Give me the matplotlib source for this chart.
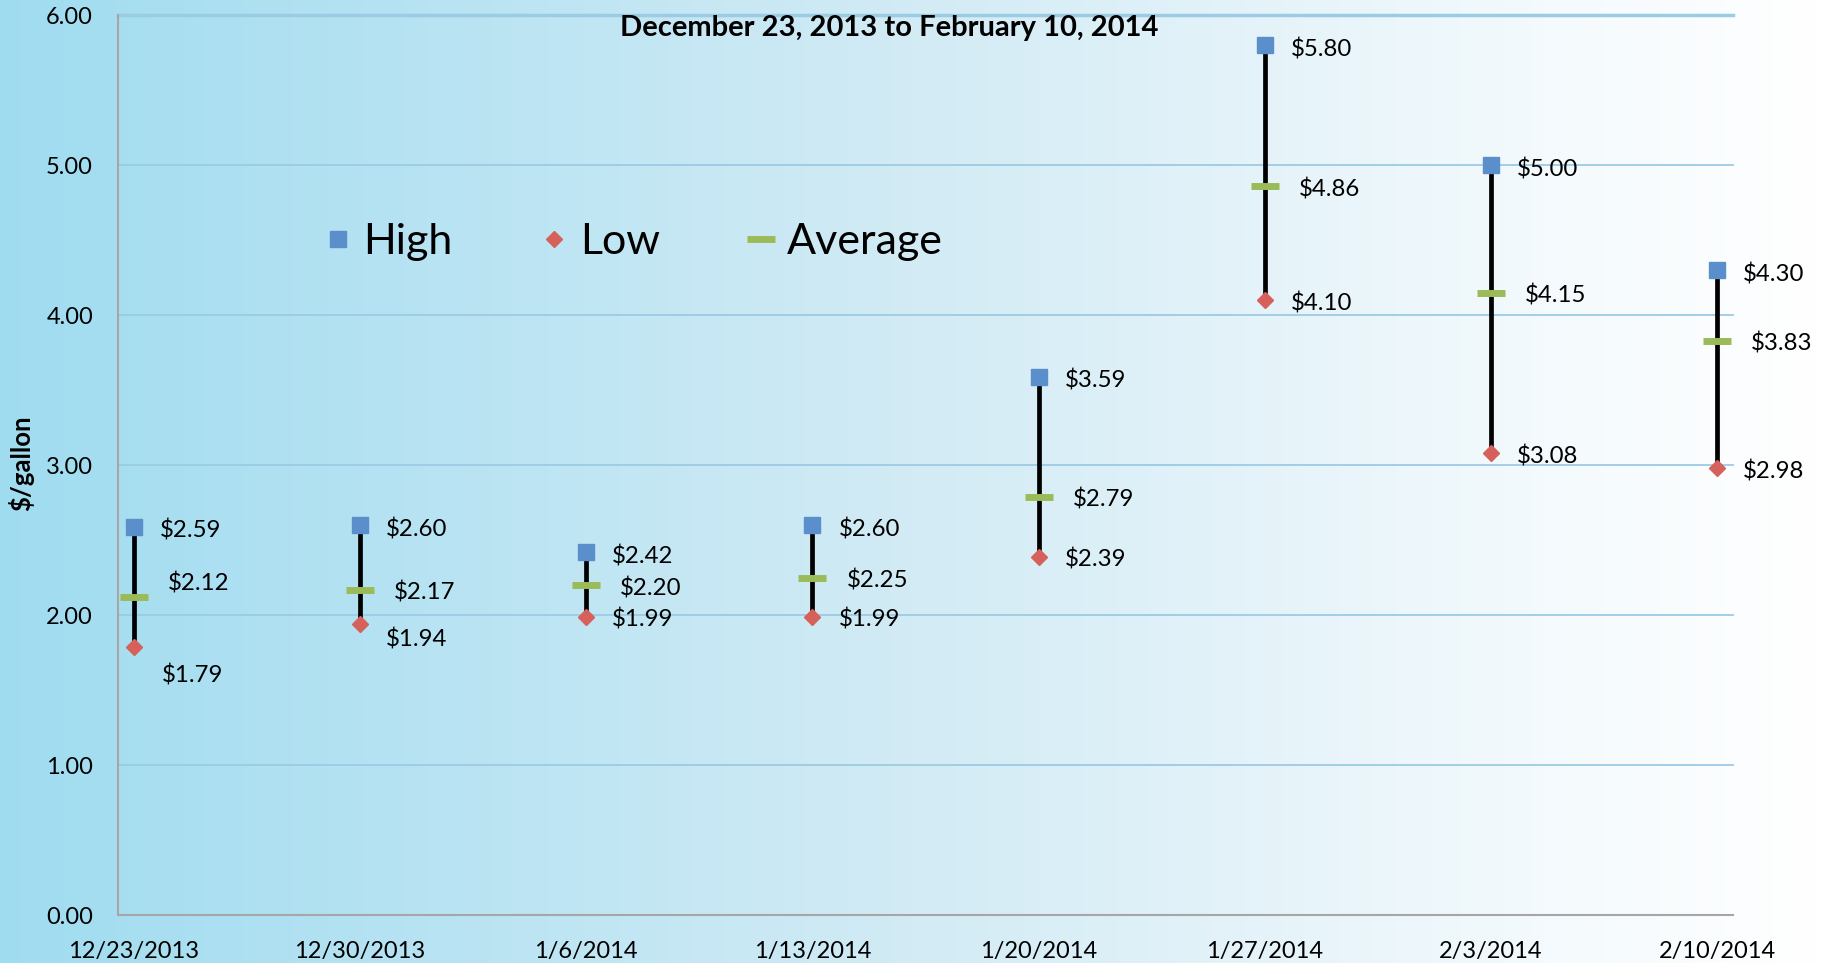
import matplotlib.pyplot as plt
import numpy as np
from matplotlib.colors import LinearSegmentedColormap

# weekly propane price range, $/gallon
dates = ["12/23/2013", "12/30/2013", "1/6/2014", "1/13/2014",
         "1/20/2014", "1/27/2014", "2/3/2014", "2/10/2014"]
high = [2.59, 2.60, 2.42, 2.60, 3.59, 5.80, 5.00, 4.30]
low = [1.79, 1.94, 1.99, 1.99, 2.39, 4.10, 3.08, 2.98]
average = [2.12, 2.17, 2.20, 2.25, 2.79, 4.86, 4.15, 3.83]
yticks = [0, 1, 2, 3, 4, 5, 6]

# small vertical nudges (pixels) where labels were moved to avoid overlap
avg_nudge = [17, 0, 0, 0, 0, 0, 0, 0]
low_nudge = [-26, -12, 0, 0, 0, 0, 0, 0]

plt.rcParams["font.family"] = ["Lato", "DejaVu Sans"]

W, H = 1823, 963
fig = plt.figure(figsize=(W / 100, H / 100), dpi=100)

# background gradient, light blue to white
bg = fig.add_axes([0, 0, 1, 1], zorder=-10)
cmap = LinearSegmentedColormap.from_list(
    "bg", [(0, "#a0dcf0"), (0.5, "#d2ebf5"), (0.85, "#f4fafd"), (1, "#ffffff")])
bg.imshow(np.linspace(0, 1, 512)[None, :], aspect="auto", cmap=cmap,
          extent=[0, 1, 0, 1])
bg.axis("off")

ax = fig.add_axes([118 / W, 48 / H, (1733 - 118) / W, 900 / H])
ax.set_facecolor("none")

x = np.arange(len(dates))
for t in yticks[1:]:
    ax.axhline(t, color="#9ccbe4", lw=1.3 if t < 6 else 2.5, zorder=1, clip_on=False)

ax.vlines(x, low, high, color="black", lw=3.4, zorder=2)
ax.plot(x, high, ls="none", marker="s", ms=12, color="#5b8fcb", label="High", zorder=3)
ax.plot(x, low, ls="none", marker="D", ms=8.5, color="#d6605a", label="Low", zorder=3)
ax.plot(x, average, ls="none", marker="_", ms=19.5, mew=5, color="#9bbb59",
        label="Average", zorder=4)

for i in x:
    ax.annotate(f"${high[i]:.2f}", (i, high[i]), xytext=(26, -4),
                textcoords="offset pixels", ha="left", va="center", fontsize=17.3)
    ax.annotate(f"${average[i]:.2f}", (i, average[i]), xytext=(34, avg_nudge[i] - 3),
                textcoords="offset pixels", ha="left", va="center", fontsize=17.3)
    ax.annotate(f"${low[i]:.2f}", (i, low[i]), xytext=(28 if i == 0 else 26, low_nudge[i] - 3),
                textcoords="offset pixels", ha="left", va="center", fontsize=17.3)

ax.set_xlim(-0.07, len(dates) - 1 + 0.07)
ax.set_ylim(0, 6)
ax.set_yticks(yticks, [f"{t:.2f}" for t in yticks])
ax.set_xticks(x, dates)
ax.tick_params(axis="both", length=0, labelsize=17)
ax.tick_params(axis="y", pad=18)
ax.tick_params(axis="x", pad=19)

for s in ["top", "right"]:
    ax.spines[s].set_visible(False)
for s in ["left", "bottom"]:
    ax.spines[s].set_color("#a6a6a6")
    ax.spines[s].set_linewidth(1.5)

ax.legend(loc="center left", bbox_to_anchor=(0.128, 0.748), ncol=3, frameon=False,
          fontsize=31, handlelength=0.6, handletextpad=0.3, columnspacing=2.05,
          borderpad=0, borderaxespad=0)

fig.text(21 / W, 1 - 463 / H, "$/gallon", rotation=90, fontweight="bold", fontsize=18.5,
         ha="center", va="center")
fig.text(889 / W, 1 - 28 / H, "December 23, 2013 to February 10, 2014",
         fontweight="bold", fontsize=21, ha="center", va="center")

fig.savefig("out.png", dpi=100)
